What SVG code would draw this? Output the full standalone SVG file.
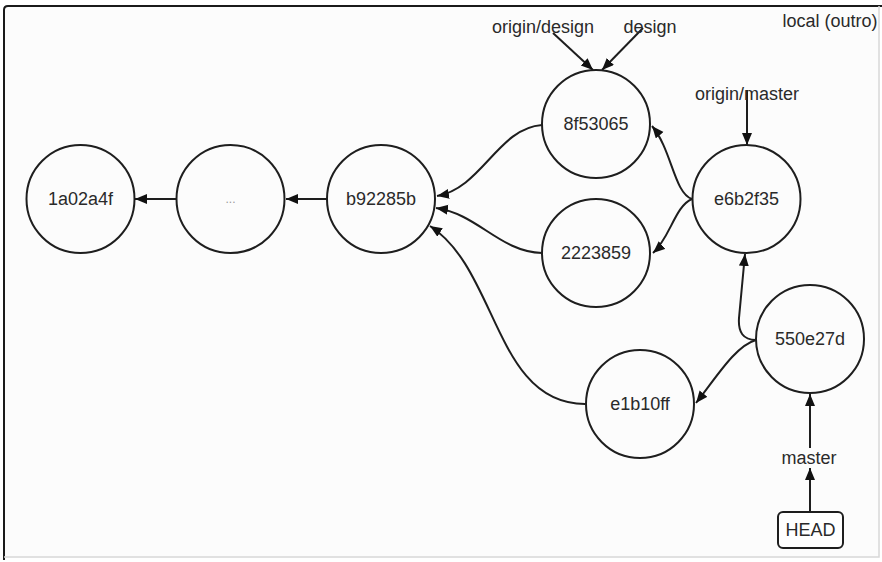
<svg xmlns="http://www.w3.org/2000/svg" width="882" height="562" viewBox="0 0 882 562">
<defs>
<style>
.node circle{fill:none;stroke:#1e1e1e;stroke-width:2}
.lbl{font-family:"Liberation Sans",Arial,sans-serif;font-size:18px;fill:#2a2a2a;text-anchor:middle}
.conn path,.conn line{fill:none;stroke:#1e1e1e;stroke-width:2}
</style>
<marker id="ah" markerWidth="14" markerHeight="12" refX="12" refY="5" orient="auto" markerUnits="userSpaceOnUse">
<path d="M0,0 L12,5 L0,10 z" fill="#111"/>
</marker>
</defs>
<rect x="0" y="0" width="882" height="562" fill="#ffffff"/>
<rect x="4" y="6" width="875" height="551" fill="#fcfcfc"/>
<path d="M4,560 L4,10 Q4,6 8,6 L882,6" fill="none" stroke="#1a1a1a" stroke-width="2"/>
<path d="M879,6 L879,557 L4,557" fill="none" stroke="#d8d8d8" stroke-width="1.5"/>

<g id="connectors" class="conn">
<line x1="176" y1="199" x2="135" y2="199" marker-end="url(#ah)"/>
<line x1="327" y1="199" x2="286" y2="199" marker-end="url(#ah)"/>
<path d="M542,125 C498,128 482,188 437,196" marker-end="url(#ah)"/>
<path d="M542,253 C500,252 478,214 436,208" marker-end="url(#ah)"/>
<path d="M585,404 C495,404 498,270 430,226" marker-end="url(#ah)"/>
<path d="M692,199 C674,193 672,150 652,126" marker-end="url(#ah)"/>
<path d="M692,199 C675,206 670,238 653,253" marker-end="url(#ah)"/>
<path d="M756,340 C743,340 738,332 739,318 L745,254" marker-end="url(#ah)"/>
<path d="M756,340 C735,346 716,378 696,403" marker-end="url(#ah)"/>
<line x1="810" y1="448" x2="810" y2="394" marker-end="url(#ah)"/>
<line x1="810" y1="512" x2="810" y2="468" marker-end="url(#ah)"/>
<line x1="553" y1="33" x2="593" y2="70" marker-end="url(#ah)"/>
<line x1="643" y1="28" x2="602" y2="70" marker-end="url(#ah)"/>
<line x1="747" y1="90" x2="747" y2="145" marker-end="url(#ah)"/>
</g>

<g id="n1a02a4f" class="node"><circle cx="80.5" cy="199" r="54"/><text class="lbl" x="80.5" y="205">1a02a4f</text></g>
<g id="ndots" class="node"><circle cx="230.5" cy="199" r="54"/><text x="230.5" y="203" font-family="Liberation Sans, Arial, sans-serif" font-size="12" fill="#9a9a9a" text-anchor="middle">...</text></g>
<g id="nb92285b" class="node"><circle cx="381" cy="199" r="54"/><text class="lbl" x="381" y="205">b92285b</text></g>
<g id="n8f53065" class="node"><circle cx="596" cy="124" r="54"/><text class="lbl" x="596" y="130">8f53065</text></g>
<g id="n2223859" class="node"><circle cx="596" cy="253" r="54"/><text class="lbl" x="596" y="259">2223859</text></g>
<g id="ne6b2f35" class="node"><circle cx="746.5" cy="199" r="54"/><text class="lbl" x="746.5" y="205">e6b2f35</text></g>
<g id="n550e27d" class="node"><circle cx="810" cy="339" r="54"/><text class="lbl" x="810" y="345">550e27d</text></g>
<g id="ne1b10ff" class="node"><circle cx="640" cy="404" r="54"/><text class="lbl" x="640" y="410">e1b10ff</text></g>

<g id="head"><rect x="778" y="512" width="65" height="36" rx="5" fill="#fff" stroke="#1e1e1e" stroke-width="2"/><text class="lbl" x="810.5" y="536">HEAD</text></g>
<g id="master"><text class="lbl" x="809" y="464">master</text></g>
<g id="origin-design"><text class="lbl" x="543" y="33">origin/design</text></g>
<g id="design"><text class="lbl" x="650" y="33">design</text></g>
<g id="origin-master"><text class="lbl" x="747" y="100">origin/master</text></g>
<g id="local"><text class="lbl" x="830" y="27">local (outro)</text></g>
</svg>
